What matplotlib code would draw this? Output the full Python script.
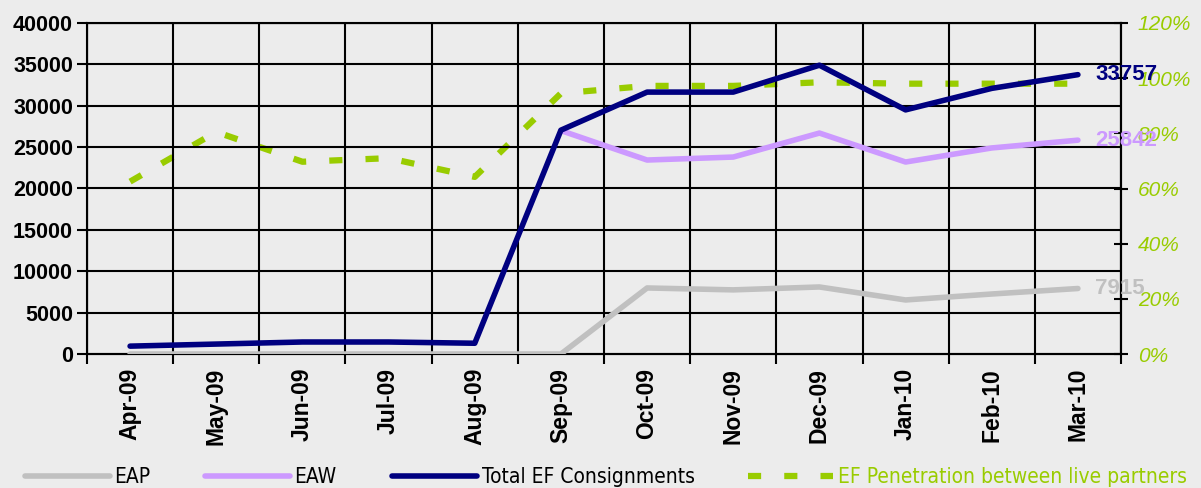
import numpy as np
import matplotlib
matplotlib.use('Agg')
import matplotlib.pyplot as plt

matplotlib.rcParams['font.family'] = ['Liberation Sans', 'DejaVu Sans']

months = ['Apr-09', 'May-09', 'Jun-09', 'Jul-09', 'Aug-09', 'Sep-09',
          'Oct-09', 'Nov-09', 'Dec-09', 'Jan-10', 'Feb-10', 'Mar-10']
eap = [0, 0, 0, 0, 0, 0, 7980, 7750, 8100, 6530, 7250, 7915]
eaw = [np.nan, np.nan, np.nan, np.nan, np.nan, 27000, 23440, 23800, 26700, 23200, 24900, 25842]
total = [950, 1200, 1450, 1450, 1300, 27050, 31650, 31650, 34900, 29500, 32100, 33757]
penetration = [0.625, 0.805, 0.697, 0.71, 0.642, 0.945, 0.972, 0.972, 0.985, 0.98, 0.98, 0.98]
names = ['EAP', 'EAW', 'Total EF Consignments', 'EF Penetration between live partners']

bg = '#ececec'
c_eap = '#c0c0c0'
c_eaw = '#cc99ff'
c_tot = '#000080'
c_pen = '#99cc00'

fig = plt.figure(figsize=(12.01, 4.88), dpi=100, facecolor=bg)
ax = fig.add_axes([87 / 1201, 1 - 354 / 488, (1121 - 87) / 1201, (354 - 23) / 488])
x = np.arange(len(months))

l1, = ax.plot(x, eap, color=c_eap, lw=4, solid_capstyle='round', zorder=3)
l2, = ax.plot(x, eaw, color=c_eaw, lw=4, solid_capstyle='round', zorder=4)
l3, = ax.plot(x, total, color=c_tot, lw=4, solid_capstyle='round', zorder=5)

ax.set_xlim(-0.5, len(months) - 0.5)
ax.set_ylim(0, 40000)
ax.set_yticks(np.arange(0, 40001, 5000))
ax.set_yticklabels([str(v) for v in range(0, 40001, 5000)], fontsize=15.5, fontweight='bold')
ax.set_xticks(x)
ax.set_xticklabels(months, rotation=90, fontsize=16.5, fontweight='bold')
ax.set_xticks(np.arange(-0.5, len(months), 1), minor=True)
ax.tick_params(axis='x', which='major', length=0, pad=10)
ax.tick_params(axis='x', which='minor', length=7, width=1.5, direction='out')
ax.tick_params(axis='y', length=7, width=1.5, direction='out', pad=3)
ax.grid(True, which='minor', axis='x', color='black', lw=1.5, zorder=1)
ax.grid(True, which='major', axis='y', color='black', lw=1.5, zorder=1)
for s in ax.spines.values():
    s.set_color('black')
    s.set_linewidth(1.5)

ax2 = ax.twinx()
l4, = ax2.plot(x, penetration, color=c_pen, lw=4.5, linestyle=(0, (2.1, 3.7)), zorder=2)
ax2.set_ylim(0, 1.2)
ax2.set_yticks(np.arange(0, 1.21, 0.2))
ax2.set_yticklabels(['%d%%' % round(v * 100) for v in np.arange(0, 1.21, 0.2)],
                    fontsize=15, fontstyle='italic', color=c_pen)
ax2.tick_params(axis='y', length=10, width=1.5, direction='inout', pad=7)
ax2.spines['right'].set_linewidth(1.5)
ax2.set_zorder(ax.get_zorder() - 1)
ax.patch.set_visible(False)
ax2.patch.set_facecolor(bg)

for vals, col in [(total, c_tot), (eaw, c_eaw), (eap, c_eap)]:
    ax.text(len(months) - 1 + 0.2, vals[-1], str(vals[-1]), color=col,
            fontsize=16, fontweight='bold', va='center', ha='left', zorder=6)

# legend entries placed one by one along the bottom
leg_x = [25 / 1201, 205 / 1201, 392 / 1201, 748 / 1201]
leg_font = {'family': ['DejaVu Sans'], 'stretch': 'condensed', 'size': 15}
for i, (h, name) in enumerate(zip([l1, l2, l3, l4], names)):
    leg = fig.legend([h], [name], loc='center left', bbox_to_anchor=(leg_x[i], 1 - 477 / 488),
                     frameon=False, handlelength=4.1, handletextpad=0.2,
                     borderpad=0, borderaxespad=0, prop=leg_font)
    if i == 3:
        leg.get_texts()[0].set_color(c_pen)

fig.savefig('out.png', dpi=100, facecolor=bg)
